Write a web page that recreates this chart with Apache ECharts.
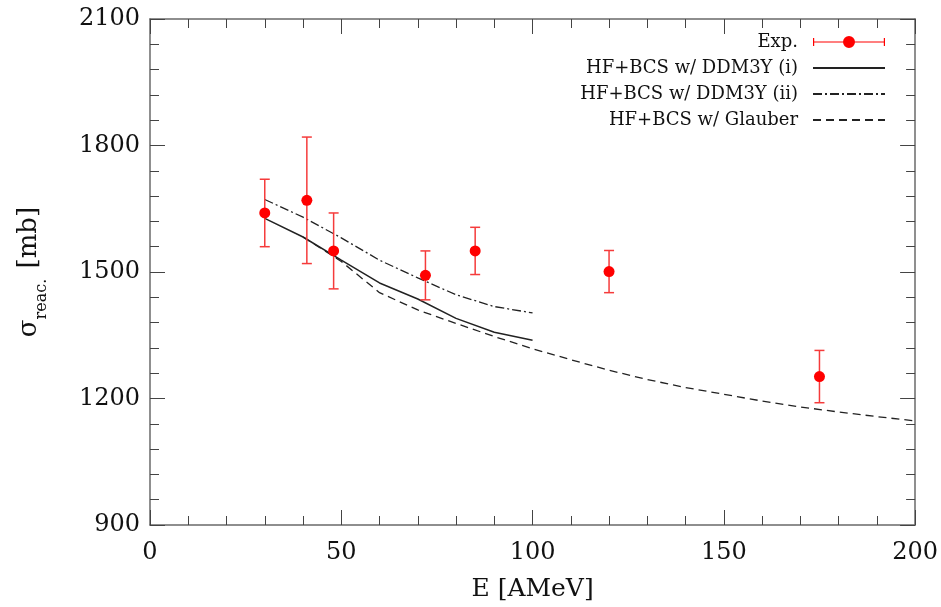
<!DOCTYPE html>
<html lang="en">
<head>
    <meta charset="UTF-8">
    <title>Reaction cross section</title>
    <script src="https://cdn.jsdelivr.net/npm/echarts@6/dist/echarts.min.js"></script>
    <style type="text/css">
        html, body { margin: 0; padding: 0; background: #fff; }
        #chart { width: 941px; height: 607px; }
    </style>
</head>
<body>
<div id="chart"></div>
<script>
    // experimental points
    var expE = [30, 41, 48, 72, 85, 120, 175];
    var expSigma = [1640, 1670, 1550, 1492, 1550, 1501, 1252];
    var expErr = [80, 150, 90, 58, 56, 50, 62];

    // HF+BCS w/ DDM3Y (i) and (ii)
    var ddmE = [30, 40, 50, 60, 70, 80, 90, 100];
    var ddmI = [1627, 1583, 1528, 1474, 1436, 1390, 1357, 1338];
    var ddmII = [1672, 1630, 1581, 1528, 1486, 1446, 1418, 1403];

    // HF+BCS w/ Glauber
    var glauberE = [40, 50, 60, 70, 80, 90, 100, 110, 120, 130, 140, 150, 160, 170, 180, 190, 200];
    var glauber = [1583, 1525, 1451, 1410, 1378, 1347, 1318, 1292, 1267, 1245, 1226, 1210, 1194, 1180, 1168, 1157, 1147];

    var xTicks = [0, 50, 100, 150, 200];
    var yTicks = [900, 1200, 1500, 1800, 2100];

    var font = 'DejaVu Serif';
    var frameColor = '#6a6a6a';
    var tickColor = '#444';
    var red = '#ff0000';

    function pairs(xs, ys) {
        return xs.map(function (x, i) { return [x, ys[i]]; });
    }

    var expData = expE.map(function (e, i) { return [e, expSigma[i], expErr[i]]; });

    function renderErr(params, api) {
        var x = api.value(0), y = api.value(1), err = api.value(2);
        var c = api.coord([x, y]);
        var top = api.coord([x, y + err]);
        var bot = api.coord([x, y - err]);
        var cap = 5;
        var st = { stroke: '#f53b3b', lineWidth: 1.5 };
        return {
            type: 'group',
            children: [
                { type: 'line', shape: { x1: c[0], y1: top[1], x2: c[0], y2: bot[1] }, style: st },
                { type: 'line', shape: { x1: c[0] - cap, y1: top[1], x2: c[0] + cap, y2: top[1] }, style: st },
                { type: 'line', shape: { x1: c[0] - cap, y1: bot[1], x2: c[0] + cap, y2: bot[1] }, style: st },
                { type: 'circle', shape: { cx: c[0], cy: c[1], r: 5.5 }, style: { fill: red } }
            ]
        };
    }

    var expIcon = 'path://M0,3 h1.2 v8 h-1.2 Z M0,6.4 h72 v1.2 h-72 Z M70.8,3 h1.2 v8 h-1.2 Z ' +
        'M30,7 a6,6 0 1,1 12,0 a6,6 0 1,1 -12,0 Z';

    function baseAxis(extra) {
        var a = {
            type: 'value',
            axisLine: { show: true, onZero: false, lineStyle: { color: frameColor, width: 1.5 } },
            axisTick: { show: true, inside: true, length: 15, lineStyle: { color: tickColor, width: 1 } },
            minorTick: { show: true, splitNumber: 5, length: 9, lineStyle: { color: tickColor, width: 1 } },
            splitLine: { show: false },
            minorSplitLine: { show: false }
        };
        for (var k in extra) a[k] = extra[k];
        return a;
    }

    var chart = echarts.init(document.getElementById('chart'));

    var option = {
        backgroundColor: '#fff',
        animation: false,
        grid: { left: 150, right: 25, top: 19, bottom: 81 },
        legend: {
            orient: 'vertical',
            align: 'right',
            right: 50,
            top: 28,
            itemWidth: 72,
            itemHeight: 14,
            itemGap: 8,
            textStyle: { fontFamily: font, fontSize: 18, color: '#111', padding: [0, 10, 0, 0] },
            data: [
                { name: 'Exp.', icon: expIcon },
                'HF+BCS w/ DDM3Y (i)',
                'HF+BCS w/ DDM3Y (ii)',
                'HF+BCS w/ Glauber'
            ]
        },
        xAxis: [
            baseAxis({
                min: xTicks[0], max: xTicks[xTicks.length - 1], interval: 50,
                position: 'bottom',
                name: 'E [AMeV]',
                nameLocation: 'middle',
                nameGap: 52,
                nameTextStyle: { fontFamily: font, fontSize: 25, color: '#111' },
                axisLabel: { margin: 16, fontFamily: font, fontSize: 24, color: '#111' }
            }),
            baseAxis({
                min: xTicks[0], max: xTicks[xTicks.length - 1], interval: 50,
                position: 'top',
                axisLabel: { show: false }
            })
        ],
        yAxis: [
            baseAxis({
                min: yTicks[0], max: yTicks[yTicks.length - 1], interval: 300,
                position: 'left',
                name: '{s|σ}{sub|reac.}{s| [mb]}',
                nameLocation: 'middle',
                nameRotate: 90,
                nameGap: 100,
                nameTextStyle: {
                    color: '#111',
                    rich: {
                        s: { fontFamily: font, fontSize: 26, lineHeight: 34, verticalAlign: 'top', color: '#111' },
                        sub: { fontFamily: font, fontSize: 16, lineHeight: 34, verticalAlign: 'bottom', padding: [0, 2, 0, 0], color: '#111' }
                    }
                },
                axisLabel: {
                    margin: 10, fontFamily: font, fontSize: 24, color: '#111',
                    formatter: function (v) { return String(v); }
                }
            }),
            baseAxis({
                min: yTicks[0], max: yTicks[yTicks.length - 1], interval: 300,
                position: 'right',
                axisLabel: { show: false }
            })
        ],
        series: [
            {
                name: 'Exp.',
                type: 'custom',
                renderItem: renderErr,
                itemStyle: { color: red },
                encode: { x: 0, y: 1 },
                data: expData,
                z: 5
            },
            {
                name: 'HF+BCS w/ DDM3Y (i)',
                type: 'line',
                data: pairs(ddmE, ddmI),
                symbol: 'none',
                itemStyle: { color: 'transparent' },
                lineStyle: { color: '#222', width: 1.5, type: 'solid' }
            },
            {
                name: 'HF+BCS w/ DDM3Y (ii)',
                type: 'line',
                data: pairs(ddmE, ddmII),
                symbol: 'none',
                itemStyle: { color: 'transparent' },
                lineStyle: { color: '#222', width: 1.3, type: [9, 3, 2, 3] }
            },
            {
                name: 'HF+BCS w/ Glauber',
                type: 'line',
                data: pairs(glauberE, glauber),
                symbol: 'none',
                itemStyle: { color: 'transparent' },
                lineStyle: { color: '#222', width: 1.3, type: [8, 5] }
            }
        ]
    };

    chart.setOption(option);
</script>
</body>
</html>
